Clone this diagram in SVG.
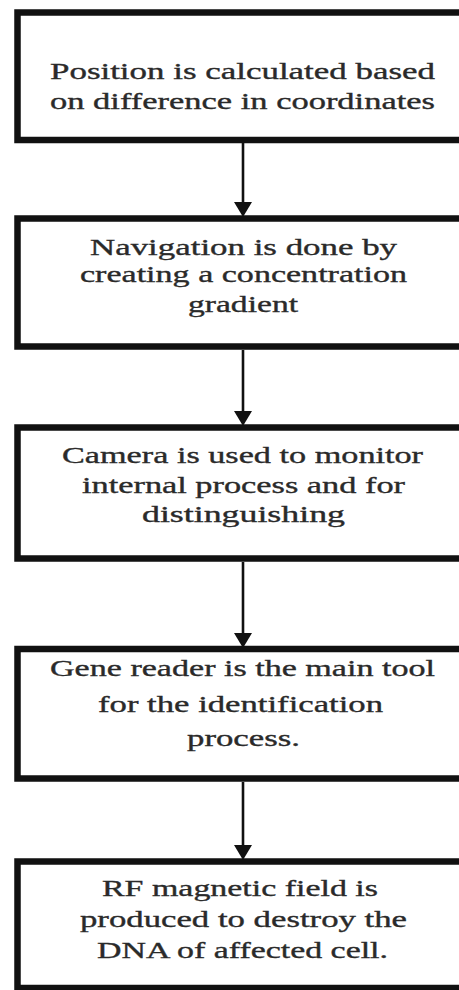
<svg xmlns="http://www.w3.org/2000/svg" width="459" height="990" viewBox="0 0 459 990">
<style>
.box{fill:#fff;stroke:#111;stroke-width:6.5}
.t{font-family:"Liberation Serif","Times New Roman",serif;font-size:23px;fill:#2a2a2a;stroke:#2a2a2a;stroke-width:0.35}
.c{stroke:#111;stroke-width:2.6;fill:none}
.ah{fill:#111}
</style>
<rect x="0" y="0" width="459" height="990" fill="#fff"/>
<g id="n1">
<rect class="box" x="17.5" y="12.5" width="460" height="127.5"/>
<text class="t" x="50" y="79" textLength="385" lengthAdjust="spacingAndGlyphs">Position is calculated based</text>
<text class="t" x="50" y="109" textLength="385" lengthAdjust="spacingAndGlyphs">on difference in coordinates</text>
</g>
<g id="n2">
<rect class="box" x="17.5" y="218.5" width="460" height="128"/>
<text class="t" x="90" y="255" textLength="307" lengthAdjust="spacingAndGlyphs">Navigation is done by</text>
<text class="t" x="80" y="282" textLength="327" lengthAdjust="spacingAndGlyphs">creating a concentration</text>
<text class="t" x="188" y="312" textLength="110" lengthAdjust="spacingAndGlyphs">gradient</text>
</g>
<g id="n3">
<rect class="box" x="17.5" y="427.5" width="460" height="131"/>
<text class="t" x="62" y="463" textLength="361" lengthAdjust="spacingAndGlyphs">Camera is used to monitor</text>
<text class="t" x="82" y="493" textLength="323" lengthAdjust="spacingAndGlyphs">internal process and for</text>
<text class="t" x="142" y="522" textLength="203" lengthAdjust="spacingAndGlyphs">distinguishing</text>
</g>
<g id="n4">
<rect class="box" x="17.5" y="649" width="460" height="129.5"/>
<text class="t" x="50" y="676" textLength="385" lengthAdjust="spacingAndGlyphs">Gene reader is the main tool</text>
<text class="t" x="98" y="712" textLength="285" lengthAdjust="spacingAndGlyphs">for the identification</text>
<text class="t" x="187" y="746" textLength="113" lengthAdjust="spacingAndGlyphs">process.</text>
</g>
<g id="n5">
<rect class="box" x="17.5" y="861.5" width="460" height="126.5"/>
<text class="t" x="102" y="896" textLength="276" lengthAdjust="spacingAndGlyphs">RF magnetic field is</text>
<text class="t" x="80" y="927" textLength="327" lengthAdjust="spacingAndGlyphs">produced to destroy the</text>
<text class="t" x="97" y="958" textLength="291" lengthAdjust="spacingAndGlyphs">DNA of affected cell.</text>
</g>
<g id="connectors">
<line class="c" x1="243" y1="143" x2="243" y2="204"/>
<polygon class="ah" points="234,202 252,202 243,217"/>
<line class="c" x1="243" y1="350" x2="243" y2="413"/>
<polygon class="ah" points="234,411 252,411 243,426"/>
<line class="c" x1="243" y1="562" x2="243" y2="635"/>
<polygon class="ah" points="234,633 252,633 243,648"/>
<line class="c" x1="243" y1="782" x2="243" y2="847"/>
<polygon class="ah" points="234,845 252,845 243,860"/>
</g>
</svg>
